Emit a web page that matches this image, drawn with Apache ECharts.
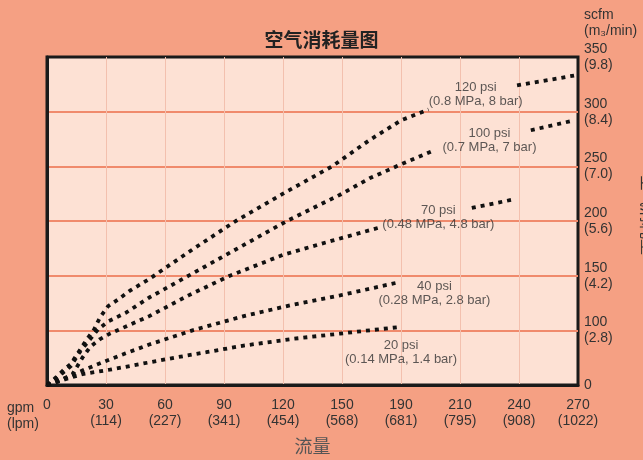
<!DOCTYPE html>
<html>
<head>
<meta charset="utf-8">
<script src="https://cdn.jsdelivr.net/npm/echarts@6/dist/echarts.min.js"></script>
<style>
html,body{margin:0;padding:0;background:#f5a083;}
#c{width:643px;height:460px;}
</style>
</head>
<body>
<div id="c"></div>
<script>
// x axis tick labels (gpm / lpm)
const gpmTicks = ['0', '30', '60', '90', '120', '150', '190', '210', '240', '270'];
const lpmTicks = ['', '114', '227', '341', '454', '568', '681', '795', '908', '1022'];
// right y axis tick labels (scfm / m3/min); bottom of the scale is labelled 0
const yTickValues = [50, 100, 150, 200, 250, 300, 350];
const scfmTicks = ['0', '100', '150', '200', '250', '300', '350'];
const m3Ticks = ['', '2.8', '4.2', '5.6', '7.0', '8.4', '9.8'];

// curves: [gpm, scfm] (in the chart's axis units)
const psi120Main = [[0,50],[4,56],[8,63],[12,69],[16,80],[20,91],[24,101],[27,112],[31,122],[36,128],[42,136],[52,147],[74,174],[96,200],[120,225],[145,250],[164,274],[180,292],[194,302]];
const psi120Tail = [[239,324],[268,333]];
const psi100Main = [[0,50],[6,58],[12,67],[17,81],[22,92],[26,101],[31,108],[40,116],[52,130],[72,150],[97,175],[122,200],[149,224],[164,239],[179,251],[196,264]];
const psi100Tail = [[246,283],[268,292]];
const psi70Main = [[0,50],[7,54],[13,60],[18,75],[22,85],[27,92],[32,97],[42,105],[52,113],[72,132],[93,150],[120,169],[145,182],[169,194]];
const psi70Tail = [[216,212],[238,220]];
const psi40 = [[0,50],[10,57],[19,64],[30,72],[40,79],[52,87],[74,100],[100,113],[124,123],[149,132],[179,144]];
const psi20 = [[0,50],[9,55],[18,60],[32,64],[47,69],[65,75],[81,80],[100,86],[124,92],[149,97],[179,103]];

// curve annotations
const curveNames = ['120 psi', '100 psi', '70 psi', '40 psi', '20 psi'];
const curveUnits = ['(0.8 MPa, 8 bar)', '(0.7 MPa, 7 bar)', '(0.48 MPa, 4.8 bar)', '(0.28 MPa, 2.8 bar)', '(0.14 MPa, 1.4 bar)'];
const curveLabelAt = [[218,316],[225,274],[199,203],[197,134],[180,80]];

const chart = echarts.init(document.getElementById('c'), null, {renderer: 'canvas'});

const dotted = {color: '#111', width: 3.8, type: [4, 5], cap: 'butt'};
function curve(data) {
  return {type: 'line', data: data, showSymbol: false, symbol: 'none', lineStyle: dotted, silent: true, z: 3};
}

const option = {
  animation: false,
  backgroundColor: '#f5a083',
  title: {
    text: '空气消耗量图', left: 'center', top: 25,
    textStyle: {fontFamily: 'Noto Sans CJK SC', fontSize: 19, fontWeight: 'bold', color: '#222'}
  },
  grid: {
    left: 47, right: 65, top: 57, bottom: 72,
    show: true, backgroundColor: '#fde1d4', borderColor: '#1a1a1a', borderWidth: 3
  },
  xAxis: {
    type: 'value', min: 0, max: 270, interval: 30,
    name: '流量', nameLocation: 'middle', nameGap: 52,
    nameTextStyle: {fontFamily: 'Noto Sans CJK SC', fontSize: 18, color: '#555'},
    axisLine: {show: true, lineStyle: {color: '#1a1a1a', width: 3}},
    axisTick: {show: false},
    splitLine: {show: true, showMinLine: false, showMaxLine: false, lineStyle: {color: '#f3c0ae', width: 1}},
    axisLabel: {
      margin: 12, fontFamily: 'Liberation Sans', fontSize: 14, color: '#333', lineHeight: 16,
      formatter: function (v) {
        const i = Math.round(v / 30);
        return gpmTicks[i] + '\n' + (lpmTicks[i] ? '(' + lpmTicks[i] + ')' : ' ');
      }
    }
  },
  yAxis: {
    type: 'value', position: 'right', min: 50, max: 350, interval: 50,
    axisLine: {show: true, lineStyle: {color: '#1a1a1a', width: 3}},
    axisTick: {show: false},
    splitLine: {show: true, showMinLine: false, showMaxLine: false, lineStyle: {color: '#f08a6c', width: 2}},
    axisLabel: {
      margin: 6, align: 'left', fontFamily: 'Liberation Sans', fontSize: 14, color: '#333', lineHeight: 16,
      formatter: function (v) {
        const i = yTickValues.indexOf(v);
        if (i < 0) return '';
        return scfmTicks[i] + (m3Ticks[i] ? '\n(' + m3Ticks[i] + ')' : '');
      }
    }
  },
  graphic: [
    {type: 'text', left: 584, top: 7, style: {text: 'scfm\n(m₃/min)', font: '14px "Liberation Sans"', fill: '#333', lineHeight: 16}},
    {type: 'text', left: 7, top: 400, style: {text: 'gpm\n(lpm)', font: '14px "Liberation Sans"', fill: '#333', lineHeight: 16}},
    {type: 'text', x: 648, y: 215, rotation: -Math.PI / 2, style: {text: '空气消耗量', font: '16px "Noto Sans CJK SC"', fill: '#333', align: 'center', verticalAlign: 'middle'}}
  ],
  series: [
    curve(psi120Main), curve(psi120Tail),
    curve(psi100Main), curve(psi100Tail),
    curve(psi70Main), curve(psi70Tail),
    curve(psi40), curve(psi20),
    {
      type: 'scatter', symbolSize: 1, itemStyle: {color: 'rgba(0,0,0,0)'}, silent: true, z: 4,
      data: curveLabelAt.map(function (p, i) { return {value: p, name: curveNames[i] + '\n' + curveUnits[i]}; }),
      label: {
        show: true, position: 'inside', formatter: '{b}',
        fontFamily: 'Liberation Sans', fontSize: 13, color: '#333', lineHeight: 14, align: 'center', verticalAlign: 'middle'
      }
    }
  ]
};
chart.setOption(option);
</script>
</body>
</html>
